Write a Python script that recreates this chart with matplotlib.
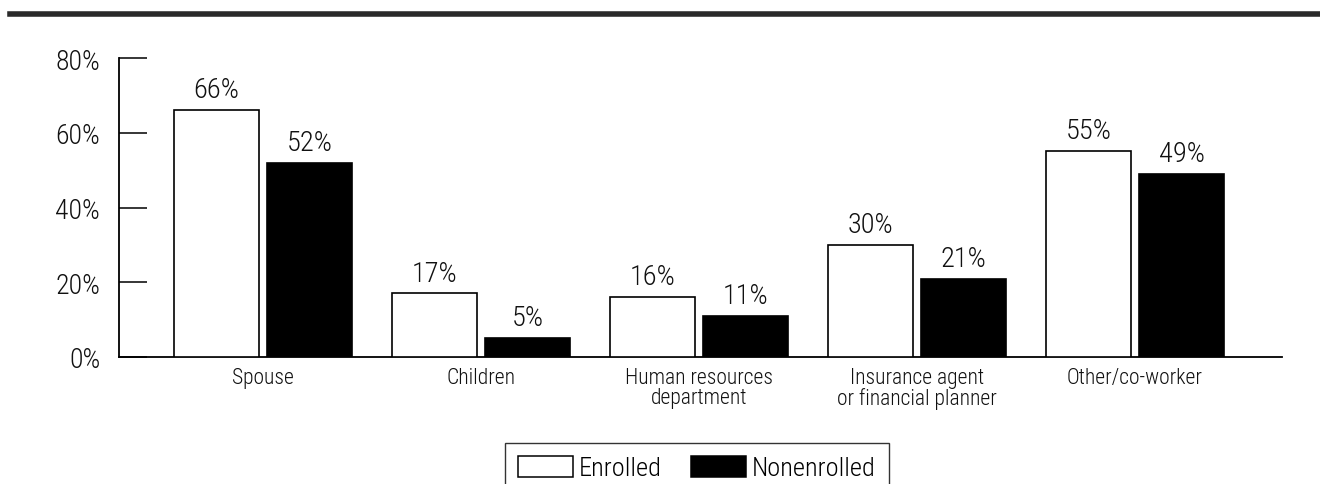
import matplotlib
matplotlib.use("Agg")
import matplotlib.pyplot as plt
import numpy as np
from matplotlib.lines import Line2D
from matplotlib.patches import Patch

plt.rcParams['font.family'] = ['Roboto Condensed', 'Liberation Sans Narrow', 'Roboto', 'DejaVu Sans']
plt.rcParams['font.weight'] = 'light'

categories = ["Spouse", "Children", "Human resources\ndepartment",
              "Insurance agent\nor financial planner", "Other/co-worker"]
enrolled = [66, 17, 16, 30, 55]
nonenrolled = [52, 5, 11, 21, 49]
yticks = [0, 20, 40, 60, 80]
series_names = ["Enrolled", "Nonenrolled"]

W, H = 1320, 485
fig = plt.figure(figsize=(W / 100, H / 100), dpi=100)
ax = fig.add_axes([119 / W, (H - 358) / H, (1282 - 119) / W, (358 - 59) / H])

x = np.arange(len(categories))
bw = 0.39
off = 0.2135
lw = 1.2

b1 = ax.bar(x - off, enrolled, bw, color="white", edgecolor="black", linewidth=lw, zorder=3)
b2 = ax.bar(x + off, nonenrolled, bw, color="black", edgecolor="black", linewidth=lw, zorder=3)

for bars, vals in ((b1, enrolled), (b2, nonenrolled)):
    for rect, v in zip(bars, vals):
        ax.annotate(f"{v}%", (rect.get_x() + rect.get_width() / 2, v),
                    xytext=(0, 5), textcoords="offset points",
                    ha="center", va="bottom", fontsize=20.5, color="#111111")

ax.set_xlim(-0.66, 4.674)
ax.set_ylim(0, 80)
ax.set_yticks(yticks)
ax.set_yticklabels([f"{t}%" for t in yticks], fontsize=20, color="#111111")
ax.set_xticks(x)
ax.set_xticklabels(categories, fontsize=15.5, color="#111111", linespacing=0.95)
ax.tick_params(axis="y", direction="in", length=20, width=1.1, pad=13.5)
ax.tick_params(axis="x", length=0, pad=7)

for s in ("top", "right"):
    ax.spines[s].set_visible(False)
for s in ("left", "bottom"):
    ax.spines[s].set_linewidth(1.3)

# heavy rule across the top of the figure
fig.add_artist(Line2D([10 / W, 1.0], [1 - 14.5 / H, 1 - 14.5 / H],
                      transform=fig.transFigure, color="#2a2a2a", linewidth=4))

handles = [Patch(facecolor="white", edgecolor="black", linewidth=1.1),
           Patch(facecolor="black", edgecolor="black", linewidth=1.1)]
leg = fig.legend(handles, series_names, loc="upper left",
                 bbox_to_anchor=(505 / W, 1 - 443.5 / H), ncol=2,
                 fontsize=19, frameon=True, fancybox=False, shadow=False,
                 borderaxespad=0, borderpad=0.5, handlelength=2.08,
                 handleheight=0.85, handletextpad=0.23, columnspacing=1.1)
leg.get_frame().set_edgecolor("black")
leg.get_frame().set_linewidth(1.0)

fig.savefig("out.png", dpi=100)
